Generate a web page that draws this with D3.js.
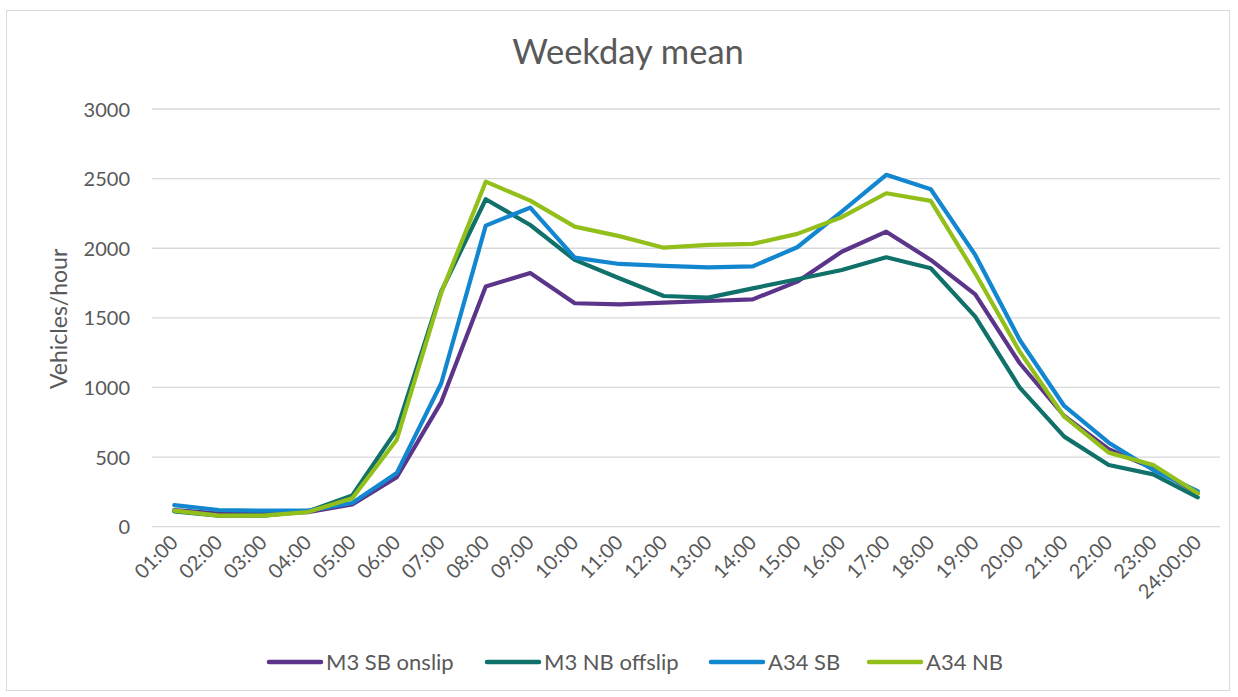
<!DOCTYPE html>
<html>
<head>
<meta charset="utf-8">
<script src="https://cdn.jsdelivr.net/npm/d3@7"></script>
<style>
  html, body { margin: 0; padding: 0; background: #fff; }
  svg text { font-family: Lato, "Open Sans", sans-serif; fill: #595959; }
</style>
</head>
<body>
<svg id="chart" width="1238" height="697"></svg>
<script>
// Hourly categories along the x axis
const hours = ["01:00","02:00","03:00","04:00","05:00","06:00","07:00","08:00","09:00","10:00",
  "11:00","12:00","13:00","14:00","15:00","16:00","17:00","18:00","19:00","20:00",
  "21:00","22:00","23:00","24:00:00"];

// Mean weekday flow per hour (vehicles/hour) for each counting site
const m3SbOnslip  = [120, 95, 95, 105, 160, 355, 895, 1725, 1822, 1605, 1597, 1609, 1621, 1633, 1760, 1975, 2119, 1916, 1669, 1174, 795, 556, 420, 240];
const m3NbOffslip = [110, 80, 80, 110, 225, 695, 1690, 2352, 2167, 1916, 1784, 1657, 1645, 1712, 1777, 1844, 1935, 1856, 1509, 999, 647, 443, 376, 211];
const a34Sb       = [155, 120, 115, 115, 170, 385, 1030, 2162, 2292, 1932, 1887, 1873, 1863, 1870, 2007, 2263, 2527, 2424, 1952, 1341, 867, 603, 407, 256];
const a34Nb       = [115, 80, 80, 105, 205, 625, 1680, 2478, 2342, 2155, 2087, 2004, 2024, 2031, 2103, 2223, 2395, 2340, 1820, 1257, 790, 532, 443, 240];

const seriesNames  = ["M3 SB onslip", "M3 NB offslip", "A34 SB", "A34 NB"];
const seriesValues = [m3SbOnslip, m3NbOffslip, a34Sb, a34Nb];
const seriesColors = ["#5c358b", "#10706a", "#1287d0", "#93bf1b"];

const yTicks = [0, 500, 1000, 1500, 2000, 2500, 3000];

const svg = d3.select("#chart");

// outer chart border
svg.append("rect")
  .attr("x", 6.5).attr("y", 10.5)
  .attr("width", 1223).attr("height", 680)
  .attr("fill", "#fff").attr("stroke", "#d9d9d9").attr("stroke-width", 1);

const plot = { left: 152, right: 1220, top: 109, bottom: 526.7 };

const x = d3.scaleBand().domain(hours).range([plot.left, plot.right]).paddingInner(0).paddingOuter(0);
const xc = d => x(d) + x.bandwidth() / 2;
const y = d3.scaleLinear().domain([0, 3000]).range([plot.bottom, plot.top]);

// title
svg.append("text")
  .attr("x", 628).attr("y", 63.5)
  .attr("text-anchor", "middle")
  .style("font-size", "34.5px")
  .text("Weekday mean");

// horizontal gridlines
svg.append("g")
  .selectAll("line")
  .data(yTicks)
  .join("line")
  .attr("x1", plot.left).attr("x2", plot.right)
  .attr("y1", d => y(d)).attr("y2", d => y(d))
  .attr("stroke", "#d9d9d9").attr("stroke-width", 1.3);

// y axis tick labels
const yAxis = d3.axisLeft(y).tickValues(yTicks).tickSize(0).tickPadding(0).tickFormat(d3.format("d"));
const gy = svg.append("g").attr("transform", `translate(${plot.left - 22},0)`).call(yAxis);
gy.select(".domain").remove();
gy.selectAll("text").style("font-size", "20px").attr("dy", "0.35em").attr("fill", "#595959");

// y axis title
svg.append("text")
  .attr("transform", `translate(67,${(plot.top + plot.bottom) / 2 + 1}) rotate(-90)`)
  .attr("text-anchor", "middle")
  .style("font-size", "23px")
  .text("Vehicles/hour");

// x axis tick labels, rotated
const xAxis = d3.axisBottom(x).tickSize(0).tickPadding(0);
const gx = svg.append("g").attr("transform", `translate(0,${plot.bottom})`).call(xAxis);
gx.select(".domain").remove();
gx.selectAll("text")
  .style("font-size", "20px")
  .attr("fill", "#595959")
  .attr("text-anchor", "end")
  .attr("dy", null).attr("y", 0)
  .attr("transform", "translate(5,17) rotate(-45)");

// series lines
const line = d3.line()
  .x((d, i) => xc(hours[i]))
  .y(d => y(d));

svg.append("g")
  .selectAll("path")
  .data(seriesValues)
  .join("path")
  .attr("d", d => line(d))
  .attr("fill", "none")
  .attr("stroke", (d, i) => seriesColors[i])
  .attr("stroke-width", 4.2)
  .attr("stroke-linejoin", "round")
  .attr("stroke-linecap", "round");

// legend
const legendX = [267, 485, 709, 867];
const lg = svg.append("g")
  .selectAll("g")
  .data(seriesNames)
  .join("g")
  .attr("transform", (d, i) => `translate(${legendX[i]},662)`);
lg.append("line")
  .attr("x1", 2).attr("x2", 54).attr("y1", 0).attr("y2", 0)
  .attr("stroke", (d, i) => seriesColors[i])
  .attr("stroke-width", 4.5).attr("stroke-linecap", "round");
lg.append("text")
  .attr("x", 59).attr("y", 0).attr("dy", "0.35em")
  .style("font-size", "22px")
  .text(d => d);
</script>
</body>
</html>
